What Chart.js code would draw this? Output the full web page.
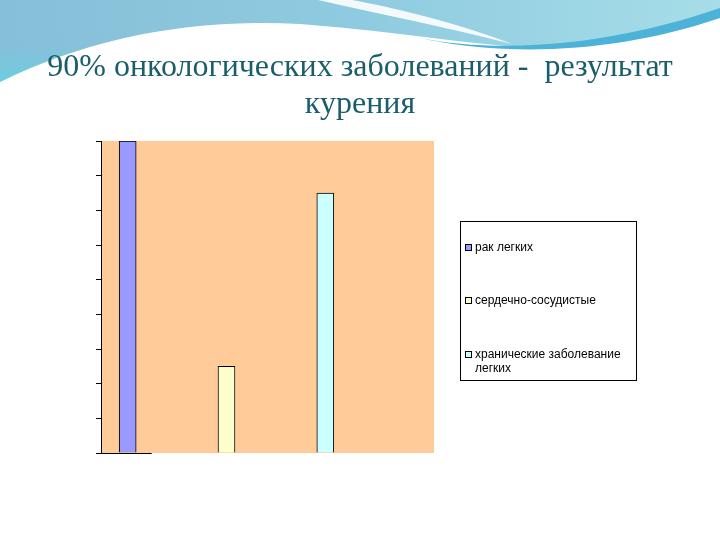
<!DOCTYPE html>
<html>
<head>
<meta charset="utf-8">
<script src="https://cdn.jsdelivr.net/npm/chart.js@4.4.0/dist/chart.umd.min.js"></script>
<style>
  html, body { margin: 0; padding: 0; background: #fff; }
  #wrap { position: relative; width: 720px; height: 540px; overflow: hidden; background: #fff; }
  #bg { position: absolute; left: 0; top: 0; }
  #c { position: absolute; left: 0; top: 0; }
</style>
</head>
<body>
<div id="wrap">
  <svg id="bg" width="720" height="540" viewBox="0 0 720 540">
    <defs>
      <linearGradient id="g1" x1="0" y1="0" x2="1" y2="0">
        <stop offset="0" stop-color="#86BFD8"/>
        <stop offset="0.5" stop-color="#8FCBE0"/>
        <stop offset="1" stop-color="#A6DDE8"/>
      </linearGradient>
      <linearGradient id="g2" x1="0" y1="0" x2="0" y2="1">
        <stop offset="0" stop-color="#86BFD8" stop-opacity="0"/>
        <stop offset="1" stop-color="#5ED6E6"/>
      </linearGradient>
    </defs>
    <path d="M0,0 H720 V10 C650,38 570,50 505,46 C440,40 380,30 300,24 C190,18 90,38 0,82 Z" fill="url(#g1)"/>
    <path d="M0,40 C40,30 80,30 120,36 C80,48 40,62 0,82 Z" fill="url(#g2)" opacity="0.7"/>
    <path d="M318,0 C380,14 450,28 512,44 C455,22 395,8 352,0 Z" fill="#ffffff" opacity="0.9"/>
    <path d="M420,38 C500,54 610,46 720,8 L720,18 C620,52 510,58 420,38 Z" fill="#4DB2D8"/>
  </svg>
  <canvas id="c" width="720" height="540"></canvas>
</div>
<script>
// ---- data ----
const titleLines = ["90% онкологических заболеваний -  результат", "курения"];
const categories = ["рак легких", "сердечно-сосудистые", "хранические заболевание легких"];
const values = [90, 25, 75];
const colors = ["#9999FF", "#FFFFCC", "#CCFFFF"];
const yTicks = [0, 10, 20, 30, 40, 50, 60, 70, 80, 90];

const datasets = categories.map((name, i) => ({
  label: name,
  data: [{ x: i, y: values[i] }],
  backgroundColor: colors[i],
  borderColor: "#000000",
  borderWidth: 1,
  borderSkipped: "bottom",
  barThickness: 17,
  grouped: false,
  yAxisID: "y"
}));

const plotBg = {
  id: "plotBg",
  beforeDraw(chart) {
    const a = chart.chartArea, ctx = chart.ctx;
    ctx.save();
    ctx.fillStyle = "#FFCC99";
    ctx.fillRect(a.left + 1, a.top, a.right - a.left - 1, a.bottom - a.top);
    ctx.restore();
  },
  afterDatasetsDraw(chart) {
    const a = chart.chartArea, ctx = chart.ctx, xs = chart.scales.x;
    ctx.save();
    ctx.strokeStyle = "#000";
    ctx.lineWidth = 1;
    ctx.beginPath();
    ctx.moveTo(a.left, Math.round(a.bottom) + 0.5);
    ctx.lineTo(xs.getPixelForValue(0) + 24, Math.round(a.bottom) + 0.5);
    ctx.stroke();
    ctx.restore();
  }
};

const boxLegend = {
  id: "boxLegend",
  afterDraw(chart) {
    const ctx = chart.ctx;
    const bx = 460.5, by = 221.5, bw = 176, bh = 159;
    ctx.save();
    ctx.fillStyle = "#fff";
    ctx.fillRect(bx, by, bw, bh);
    ctx.strokeStyle = "#000";
    ctx.lineWidth = 1;
    ctx.strokeRect(bx, by, bw, bh);
    ctx.font = "12px 'Liberation Sans', Arial, sans-serif";
    ctx.textBaseline = "middle";
    const tx = 475, maxW = 155;
    chart.data.datasets.forEach((ds, i) => {
      const cy = 247.5 + i * 53.5;
      ctx.fillStyle = ds.backgroundColor;
      ctx.fillRect(465.5, Math.round(cy) - 3.5, 6, 6);
      ctx.strokeStyle = "#000";
      ctx.strokeRect(465.5, Math.round(cy) - 3.5, 6, 6);
      const words = ds.label.split(" ");
      const lines = [];
      let cur = "";
      words.forEach(w => {
        const t = cur ? cur + " " + w : w;
        if (ctx.measureText(t).width > maxW && cur) { lines.push(cur); cur = w; }
        else cur = t;
      });
      lines.push(cur);
      ctx.fillStyle = "#000";
      lines.forEach((ln, k) => ctx.fillText(ln, tx, cy + k * 14.5));
    });
    ctx.restore();
  }
};

new Chart(document.getElementById("c"), {
  type: "bar",
  data: { datasets },
  options: {
    responsive: false,
    animation: false,
    layout: { padding: { left: 0, right: 0, top: 0, bottom: 87 } },
    plugins: {
      legend: { display: false },
      tooltip: { enabled: false },
      title: {
        display: true,
        text: titleLines,
        color: "#1B5E6B",
        font: { family: "'Liberation Serif', 'Times New Roman', serif", size: 32, weight: "normal", lineHeight: 1.15625 },
        padding: { top: 49.5, bottom: 17.5 }
      }
    },
    scales: {
      x: { type: "linear", display: false, offset: false, min: -0.27, max: 3.1 },
      y: {
        position: "left",
        min: yTicks[0], max: yTicks[yTicks.length - 1],
        afterBuildTicks(scale) { scale.ticks = yTicks.map(v => ({ value: v })); },
        afterFit(scale) { scale.width = 101; },
        ticks: { display: false },
        grid: { drawOnChartArea: false, drawTicks: true, tickLength: 5, color: "#000", lineWidth: 1 },
        border: { display: true, color: "#000", width: 1 }
      },
      yR: {
        position: "right",
        display: true,
        afterFit(scale) { scale.width = 286; },
        ticks: { display: false },
        grid: { display: false },
        border: { display: false }
      }
    }
  },
  plugins: [plotBg, boxLegend]
});
</script>
</body>
</html>
